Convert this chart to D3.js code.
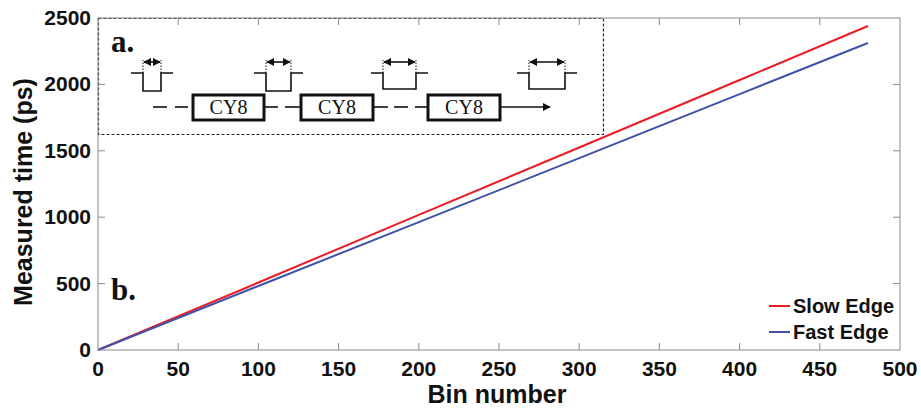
<!DOCTYPE html>
<html>
<head>
<meta charset="utf-8">
<script src="https://cdn.jsdelivr.net/npm/d3@7"></script>
<style>
  body { margin: 0; background: #fff; }
  svg { display: block; }
  .tick-label { font-family: "Liberation Sans", Arial, sans-serif; font-weight: bold; font-size: 21px; fill: #111; }
  .axis-label { font-family: "Liberation Sans", Arial, sans-serif; font-weight: bold; font-size: 25px; fill: #111; }
  .legend-label { font-family: "Liberation Sans", Arial, sans-serif; font-weight: bold; font-size: 20px; fill: #111; }
  .serif { font-family: "Liberation Serif", "Times New Roman", serif; fill: #111; }
</style>
</head>
<body>
<div id="vis"></div>
<script>
// data
var bins = [0, 100, 200, 300, 400, 480];
var slowEdge = [0, 508, 1017, 1525, 2033, 2440];
var fastEdge = [0, 482, 963, 1445, 1927, 2312];
var seriesNames = ['Slow Edge', 'Fast Edge'];
var seriesColors = ['#ec1c24', '#3f51a8'];
var xTickValues = [0, 50, 100, 150, 200, 250, 300, 350, 400, 450, 500];
var yTickValues = [0, 500, 1000, 1500, 2000, 2500];

// inset schematic (pulse widths grow along the chain)
var pulseWidths = [18, 25, 33, 36];
var blockLabels = ['CY8', 'CY8', 'CY8'];

var width = 921;
var height = 408;
var margin = { top: 18, right: 21, bottom: 58, left: 98 };
var drawWidth = width - margin.left - margin.right;
var drawHeight = height - margin.top - margin.bottom;

var svg = d3.select('#vis')
            .append('svg')
            .attr('width', width)
            .attr('height', height);

var g = svg.append('g')
            .attr('transform', 'translate(' + margin.left + ',' + margin.top + ')');

var xScale = d3.scaleLinear().domain([0, 500]).range([0, drawWidth]);
var yScale = d3.scaleLinear().domain([0, 2500]).range([drawHeight, 0]);

var axisColor = '#8a8a8a';
var tickLen = 7;

// lines
var series = [slowEdge, fastEdge];
var line = d3.line()
            .x(function(d) { return xScale(d[0]); })
            .y(function(d) { return yScale(d[1]); });

series.forEach(function(vals, i) {
    g.append('path')
        .datum(bins.map(function(b, j) { return [b, vals[j]]; }))
        .attr('fill', 'none')
        .attr('stroke', seriesColors[i])
        .attr('stroke-width', 2)
        .attr('d', line);
});

// inset box (white, dashed)
var inset = g.append('g');
var insetW = 505, insetH = 116;
inset.append('rect')
    .attr('x', 0).attr('y', 0)
    .attr('width', insetW).attr('height', insetH)
    .attr('fill', '#fff');

// axis frame with inward ticks on all sides
g.append('rect')
    .attr('width', drawWidth).attr('height', drawHeight)
    .attr('fill', 'none').attr('stroke', axisColor).attr('stroke-width', 1);

xTickValues.forEach(function(v) {
    var x = xScale(v);
    if (v > 0 && v < 500) {
        g.append('line').attr('x1', x).attr('x2', x).attr('y1', drawHeight).attr('y2', drawHeight - tickLen)
            .attr('stroke', axisColor);
        g.append('line').attr('x1', x).attr('x2', x).attr('y1', 0).attr('y2', tickLen)
            .attr('stroke', axisColor);
    }
    g.append('text')
        .attr('class', 'tick-label')
        .attr('x', x).attr('y', drawHeight + 26)
        .attr('text-anchor', 'middle')
        .text(v);
});

yTickValues.forEach(function(v) {
    var y = yScale(v);
    if (v > 0 && v < 2500) {
        g.append('line').attr('x1', 0).attr('x2', tickLen).attr('y1', y).attr('y2', y)
            .attr('stroke', axisColor);
        g.append('line').attr('x1', drawWidth).attr('x2', drawWidth - tickLen).attr('y1', y).attr('y2', y)
            .attr('stroke', axisColor);
    }
    g.append('text')
        .attr('class', 'tick-label')
        .attr('x', -7).attr('y', y + 7)
        .attr('text-anchor', 'end')
        .text(v);
});

inset.append('rect')
    .attr('x', 0.5).attr('y', 0.5)
    .attr('width', insetW).attr('height', insetH)
    .attr('fill', 'none')
    .attr('stroke', '#222').attr('stroke-width', 1.2)
    .attr('stroke-dasharray', '3,2');

// axis labels
svg.append('text')
    .attr('class', 'axis-label')
    .attr('x', margin.left + drawWidth / 2 - 2).attr('y', 403)
    .attr('text-anchor', 'middle')
    .text('Bin number');

svg.append('text')
    .attr('class', 'axis-label')
    .attr('transform', 'translate(32,' + 192 + ') rotate(-90)')
    .attr('text-anchor', 'middle')
    .text('Measured time (ps)');

// panel labels
inset.append('text').attr('class', 'serif')
    .attr('x', 13).attr('y', 34)
    .style('font-size', '31px').style('font-weight', 'bold')
    .text('a.');

g.append('text').attr('class', 'serif')
    .attr('x', 13).attr('y', 282)
    .style('font-size', '31px').style('font-weight', 'bold')
    .text('b.');

// inset schematic: pulses
var pulseLefts = [45, 168, 285, 431];
var pulseTop = 55, pulseBot = 73, arrowY = 44;
var defs = svg.append('defs');
defs.append('marker')
    .attr('id', 'ah')
    .attr('viewBox', '0 0 10 10')
    .attr('refX', 9).attr('refY', 5)
    .attr('markerWidth', 5).attr('markerHeight', 5)
    .attr('orient', 'auto-start-reverse')
    .append('path').attr('d', 'M0,0L10,5L0,10z').attr('fill', '#111');

pulseWidths.forEach(function(w, i) {
    var x0 = pulseLefts[i];
    var lead = 12;
    var bot = i < 2 ? pulseBot : pulseBot - 2;
    inset.append('path')
        .attr('d', 'M' + (x0 - lead) + ',' + pulseTop + 'H' + x0 + 'V' + bot + 'H' + (x0 + w) + 'V' + pulseTop + 'H' + (x0 + w + lead))
        .attr('fill', 'none').attr('stroke', '#111').attr('stroke-width', 1.6);
    [x0, x0 + w].forEach(function(x) {
        inset.append('line').attr('x1', x).attr('x2', x).attr('y1', pulseTop).attr('y2', arrowY - 2)
            .attr('stroke', '#111').attr('stroke-width', 1).attr('stroke-dasharray', '1.5,1.5');
    });
    inset.append('line')
        .attr('x1', x0 + 1).attr('x2', x0 + w - 1)
        .attr('y1', arrowY).attr('y2', arrowY)
        .attr('stroke', '#111').attr('stroke-width', 1.6)
        .attr('marker-start', 'url(#ah)').attr('marker-end', 'url(#ah)');
});

// inset schematic: delay chain
var chainY = 89;
var blocks = [[95, 166], [203, 275], [330, 402]];
var dashes = [[55, 69], [77, 90], [166, 180], [187, 202], [275, 290], [296, 310], [317, 330]];
dashes.forEach(function(d) {
    inset.append('line').attr('x1', d[0]).attr('x2', d[1]).attr('y1', chainY).attr('y2', chainY)
        .attr('stroke', '#111').attr('stroke-width', 1.6);
});
blocks.forEach(function(b, i) {
    inset.append('rect')
        .attr('x', b[0]).attr('y', chainY - 12)
        .attr('width', b[1] - b[0]).attr('height', 25)
        .attr('fill', '#fff').attr('stroke', '#111').attr('stroke-width', 3);
    inset.append('text').attr('class', 'serif')
        .attr('x', (b[0] + b[1]) / 2).attr('y', chainY + 7)
        .attr('text-anchor', 'middle')
        .style('font-size', '20px')
        .text(blockLabels[i]);
});
inset.append('line').attr('x1', 402).attr('x2', 452).attr('y1', chainY).attr('y2', chainY)
    .attr('stroke', '#111').attr('stroke-width', 1.6)
    .attr('marker-end', 'url(#ah)');

// legend
var legend = g.append('g').attr('transform', 'translate(' + (drawWidth - 133) + ',' + (drawHeight - 44) + ')');
seriesNames.forEach(function(name, i) {
    var row = legend.append('g').attr('transform', 'translate(0,' + (i * 26) + ')');
    row.append('line').attr('x1', 2).attr('x2', 23).attr('y1', 0).attr('y2', 0)
        .attr('stroke', seriesColors[i]).attr('stroke-width', 2);
    row.append('text').attr('class', 'legend-label')
        .attr('x', 26).attr('y', 7)
        .text(name);
});
</script>
</body>
</html>
